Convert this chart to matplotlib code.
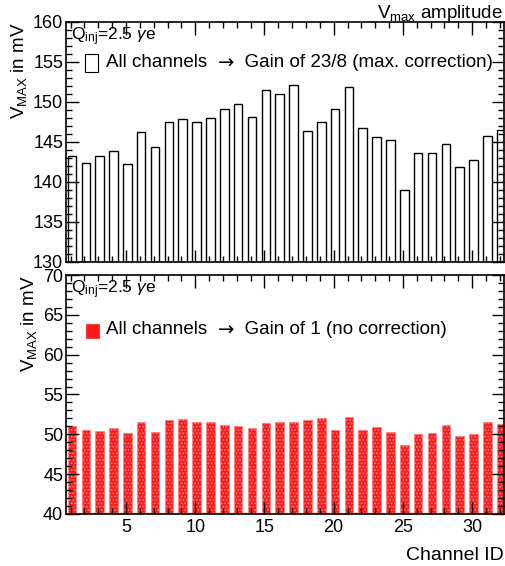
import matplotlib
matplotlib.use('Agg')
import matplotlib.pyplot as plt
from matplotlib.ticker import MultipleLocator
import numpy as np

plt.rcParams['font.family'] = 'Liberation Sans'
plt.rcParams['mathtext.fontset'] = 'custom'
plt.rcParams['mathtext.rm'] = 'Liberation Sans'
plt.rcParams['mathtext.it'] = 'Liberation Sans:italic'
plt.rcParams['hatch.linewidth'] = 0.8

channels = np.arange(1, 33)
vmax_gain_23_8 = [143.3, 142.4, 143.2, 143.9, 142.2, 146.2, 144.4, 147.5,
                  147.9, 147.5, 148.0, 149.1, 149.7, 148.1, 151.5, 151.0,
                  152.1, 146.4, 147.5, 149.1, 151.9, 146.7, 145.6, 145.2,
                  139.05, 143.6, 143.6, 144.8, 141.9, 142.8, 145.8, 146.5]
vmax_gain_1 = [51.03, 50.6, 50.4, 50.8, 50.2, 51.5, 50.3, 51.8,
               51.95, 51.5, 51.5, 51.2, 51.0, 50.85, 51.45, 51.5,
               51.5, 51.8, 52.1, 50.5, 52.2, 50.6, 50.95, 50.35,
               48.7, 50.0, 50.2, 51.15, 49.8, 50.1, 51.6, 51.25]

W, H = 505, 566
fig = plt.figure(figsize=(W / 100, H / 100), dpi=100)

def px_axes(left, top, right, bottom):
    return fig.add_axes([left / W, 1 - bottom / H, (right - left) / W, (bottom - top) / H])

ax_top = px_axes(66, 22, 504, 262)
ax_bot = px_axes(66, 275, 504, 514)

bar_w = 0.62
xpos = channels + 0.1

ax_top.bar(xpos, np.array(vmax_gain_23_8) - 130, bottom=130, width=bar_w,
           facecolor='white', edgecolor='black', linewidth=1.0)
ax_bot.bar(xpos, np.array(vmax_gain_1) - 40, bottom=40, width=bar_w,
           facecolor='#ff1a1a', edgecolor='#ff8080', hatch='.....', linewidth=0.6)

ax_top.set_ylim(130, 160)
ax_bot.set_ylim(40, 70)

for ax in (ax_top, ax_bot):
    ax.set_xlim(0.67, 32.3)
    ax.xaxis.set_major_locator(MultipleLocator(5))
    ax.xaxis.set_minor_locator(MultipleLocator(1))
    ax.yaxis.set_major_locator(MultipleLocator(5))
    ax.yaxis.set_minor_locator(MultipleLocator(1))
    ax.tick_params(which='both', direction='in', top=True, right=True,
                   width=1.0, color='black', labelsize=13)
    ax.tick_params(which='major', length=9)
    ax.tick_params(which='minor', length=4.5)
    ax.tick_params(axis='y', pad=2)
    for sp in ax.spines.values():
        sp.set_linewidth(1.2)
    ax.set_ylabel(r'V$_{\mathrm{MAX}}$ in mV', fontsize=13.5, loc='top', labelpad=3)
    ax.text(0.012, 0.985, r'Q$_{\mathrm{inj}}$=2.5 $\gamma$e', transform=ax.transAxes,
            ha='left', va='top', fontsize=12.5)

ax_top.tick_params(axis='x', labelbottom=False)
ax_bot.set_xlabel('Channel ID', fontsize=14, loc='right', labelpad=8)


def caption(ax, y, rest):
    # "All channels -> ..." with a wide arrow glyph from DejaVu
    t1 = ax.text(0.092, y, 'All channels  ', transform=ax.transAxes,
                 ha='left', va='center', fontsize=13.5)
    t2 = ax.annotate('\u2192', xy=(1, 0.5), xycoords=t1, ha='left', va='center',
                     fontsize=14, family='DejaVu Sans')
    ax.annotate('  ' + rest, xy=(1, 0.5), xycoords=t2, ha='left', va='center',
                fontsize=13.5)


ax_top.add_patch(plt.Rectangle((0.043, 0.792), 0.031, 0.075, transform=ax_top.transAxes,
                               facecolor='white', edgecolor='black', linewidth=0.8))
caption(ax_top, 0.83, 'Gain of 23/8 (max. correction)')
ax_bot.add_patch(plt.Rectangle((0.045, 0.737), 0.030, 0.06, transform=ax_bot.transAxes,
                               facecolor='#ff1a1a', edgecolor='#ff1a1a', linewidth=0.5))
caption(ax_bot, 0.77, 'Gain of 1 (no correction)')

fig.text(503 / W, 1 - 13 / H, r'V$_{\mathrm{max}}$ amplitude', ha='right', va='center', fontsize=13.5)

fig.savefig('out.png', dpi=100, facecolor='white')
